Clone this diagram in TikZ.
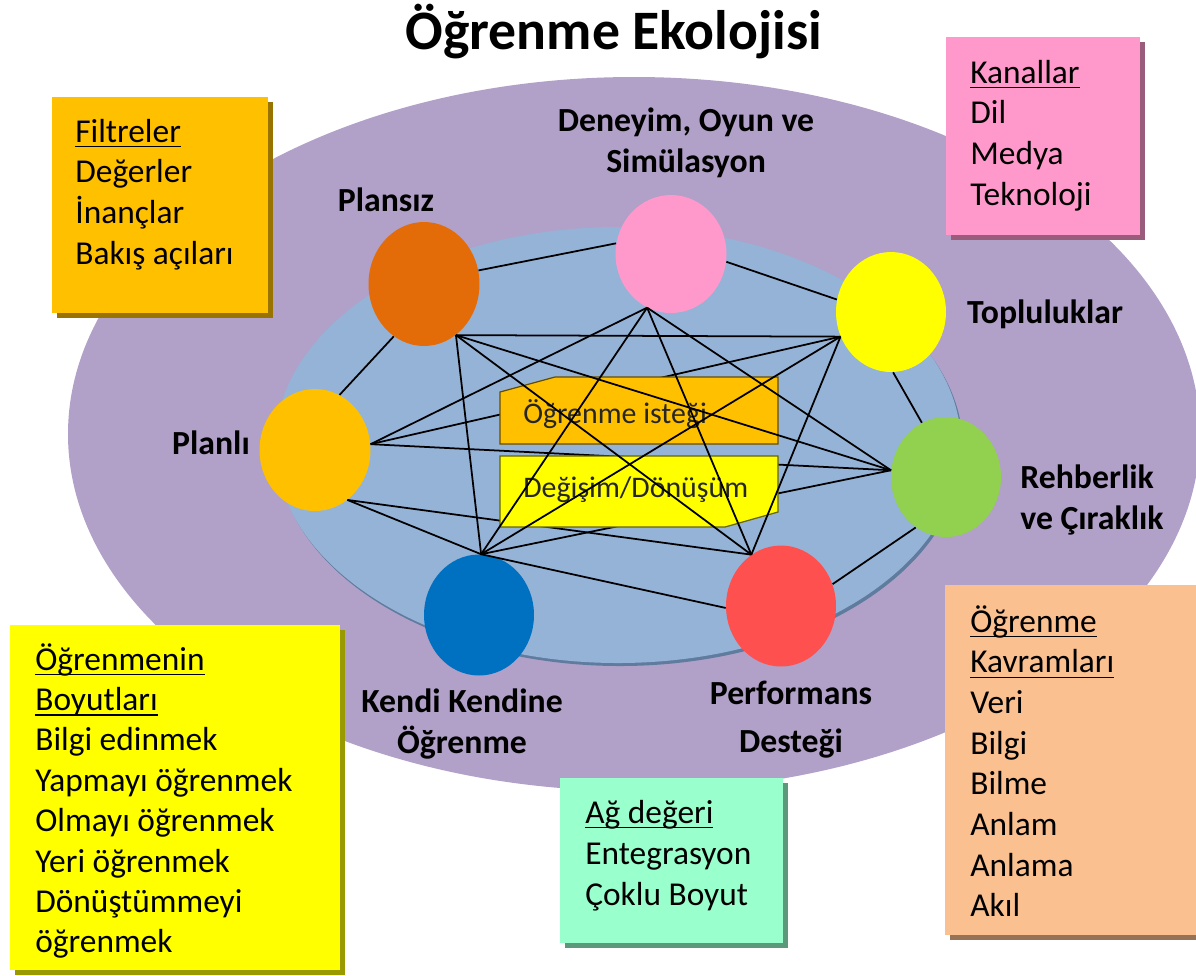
\documentclass[tikz,border=0pt]{standalone}
\usepackage{fontspec}
\setmainfont{Carlito}
\usetikzlibrary{shapes.geometric}

\definecolor{morzemin}{HTML}{B1A0C7}
\definecolor{mavizemin}{HTML}{95B3D7}
\definecolor{mavigolge}{HTML}{5F7B9E}
\definecolor{kplansiz}{HTML}{E36C09}
\definecolor{kdeneyim}{HTML}{FF99CC}
\definecolor{ktoplu}{HTML}{FFFF00}
\definecolor{kplanli}{HTML}{FFC000}
\definecolor{krehber}{HTML}{92D050}
\definecolor{kkendi}{HTML}{0070C0}
\definecolor{kperf}{HTML}{FF5050}
\definecolor{kfiltre}{HTML}{FFC000}
\definecolor{kkanal}{HTML}{FF99CC}
\definecolor{kboyut}{HTML}{FFFF00}
\definecolor{kkavram}{HTML}{FAC090}
\definecolor{kag}{HTML}{99FFCC}
\definecolor{kistek}{HTML}{FFC000}
\definecolor{kdegisim}{HTML}{FFFF00}

\newcommand{\baslikfont}{\fontsize{31.7}{38}\selectfont\bfseries}
\newcommand{\etiketfont}{\fontsize{19.2}{23.2}\selectfont\bfseries}
\newcommand{\kutufont}{\fontsize{19}{23.2}\selectfont}
\newcommand{\afisfont}{\fontsize{17}{20}\selectfont}
\newcommand{\hd}[1]{\setbox0=\hbox{#1}\rlap{\rule[-3pt]{\wd0}{0.8pt}}\box0}

\begin{document}
\begin{tikzpicture}[x=0.02cm,y=-0.02cm,
    daire/.style={ellipse,minimum width=2.2cm,minimum height=2.4cm,inner sep=0pt},
    etiket/.style={font=\etiketfont,align=center,inner sep=0pt},
    satir/.style={anchor=base west,inner sep=0pt,font=\kutufont},
    golge/.style={fill=#1!60!black},
    bag/.style={line width=1pt},
    afis/.style={fill=#1,draw=#1!40!black,line width=0.7pt}]
        % background
        \fill[white] (0,0) rectangle (1196,975);
        \useasboundingbox (0,0) rectangle (1196,975);
        % ellipses
        \fill[morzemin] (634,434) ellipse [x radius=566, y radius=357];
        \fill[mavigolge] (620,448) ellipse [x radius=343, y radius=218];
        \fill[mavizemin] (618,445) ellipse [x radius=343, y radius=218];
        % side boxes
        \fill[golge=kfiltre] (57,102) rectangle (273,318);
        \fill[kfiltre] (52,97) rectangle (268,313);
        \foreach \yazi [count=\i from 0] in {\hd{Filtreler},Değerler,İnançlar,Bakış açıları}
            \node[satir] (fil\i) at (75,142+40.7*\i) {\yazi};
        \fill[golge=kkanal] (951,42) rectangle (1145,240);
        \fill[kkanal] (946,37) rectangle (1140,235);
        \foreach \yazi [count=\i from 0] in {\hd{Kanallar},Dil,Medya,Teknoloji}
            \node[satir] (kan\i) at (970,83+40.7*\i) {\yazi};
        \fill[golge=kboyut] (15,630) rectangle (345,975);
        \fill[kboyut] (10,625) rectangle (340,970);
        \foreach \yazi [count=\i from 0] in {\hd{Öğrenmenin},\hd{Boyutları},Bilgi edinmek,Yapmayı öğrenmek,Olmayı öğrenmek,Yeri öğrenmek,Dönüştümmeyi,öğrenmek}
            \node[satir] (boy\i) at (35,670+40.4*\i) {\yazi};
        \fill[golge=kkavram] (950,590) rectangle (1201,940);
        \fill[kkavram] (945,585) rectangle (1196,935);
        \foreach \yazi [count=\i from 0] in {\hd{Öğrenme},\hd{Kavramları},Veri,Bilgi,Bilme,Anlam,Anlama,Akıl}
            \node[satir] (kav\i) at (970,632+40.7*\i) {\yazi};
        \fill[golge=kag] (565,783) rectangle (788,948);
        \fill[kag] (560,778) rectangle (783,943);
        \foreach \yazi [count=\i from 0] in {\hd{Ağ değeri},Entegrasyon,Çoklu Boyut}
            \node[satir] (ag\i) at (585,823+41*\i) {\yazi};
        % circles
        \node[daire,fill=kplansiz,minimum width=2.22cm,minimum height=2.48cm] (plansiz) at (424,284) {};
        \node[daire,fill=kdeneyim,minimum width=2.22cm,minimum height=2.36cm] (deneyim) at (671,254) {};
        \node[daire,fill=ktoplu] (toplu) at (891,312) {};
        \node[daire,fill=kplanli,minimum width=2.22cm,minimum height=2.44cm] (planli) at (315,450) {};
        \node[daire,fill=krehber] (rehber) at (946,477) {};
        \node[daire,fill=kkendi,minimum height=2.42cm] (kendi) at (479,615) {};
        \node[daire,fill=kperf,minimum height=2.42cm] (perf) at (781,606) {};
        % neighbours
        \draw[bag] (plansiz.14) -- (deneyim.169);
        \draw[bag] (deneyim.-8) -- (toplu.167);
        \draw[bag] (toplu.-88) -- (rehber.114);
        \draw[bag] (rehber.-121) -- (perf.23);
        \draw[bag] (kendi.88) -- (perf.182);
        \draw[bag] (planli.-57) -- (kendi.88);
        \draw[bag] (planli.66) -- (plansiz.-120);
        % links under the banners
        \draw[bag] (toplu.-154) -- (planli.6);
        \draw[bag] (planli.6) -- (rehber.173);
        \draw[bag] (rehber.173) -- (kendi.88);
        \draw[bag] (planli.-57) -- (perf.120);
        % banners
        \draw[afis=kistek] (500,392) -- (555,377) -- (778,377) -- (778,444) -- (500,444) -- cycle;
        \draw[afis=kdegisim] (500,456) -- (778,456) -- (778,512) -- (725,527) -- (500,527) -- cycle;
        \node[anchor=base west,inner sep=0pt,font=\afisfont,text=black!85] (istek) at (523,423) {Öğrenme isteği};
        \node[anchor=base west,inner sep=0pt,font=\afisfont,text=black!85] (degisim) at (523,497) {Değişim/Dönüşüm};
        % links over the banners
        \foreach \a/\b in {plansiz.-58/toplu.-154, plansiz.-58/rehber.173, plansiz.-58/perf.120,
                           plansiz.-58/kendi.88, deneyim.-114/rehber.173, deneyim.-114/perf.120,
                           deneyim.-114/kendi.88, deneyim.-114/planli.6, toplu.-154/perf.120,
                           toplu.-154/kendi.88}
            \draw[bag] (\a) -- (\b);
        % labels
        \node[anchor=base,inner sep=0pt,font=\baslikfont] (baslik) at (614,49) {Öğrenme Ekolojisi};
        \node[etiket] (lDeneyim) at (686,143) {Deneyim, Oyun ve\\Simülasyon};
        \node[etiket,anchor=base] (lPlansiz) at (386,211) {Plansız};
        \node[etiket,anchor=base] (lToplu) at (1045,323) {Topluluklar};
        \node[etiket,anchor=base] (lPlanli) at (211,454) {Planlı};
        \node[etiket,align=left,anchor=west] (lRehber) at (1020,500) {Rehberlik\\ve Çıraklık};
        \node[etiket] (lKendi) at (462,724) {Kendi Kendine\\Öğrenme};
        \node[etiket] (lPerf) at (791,720) {Performans\\[4pt]Desteği};
    \end{tikzpicture}
\end{document}
